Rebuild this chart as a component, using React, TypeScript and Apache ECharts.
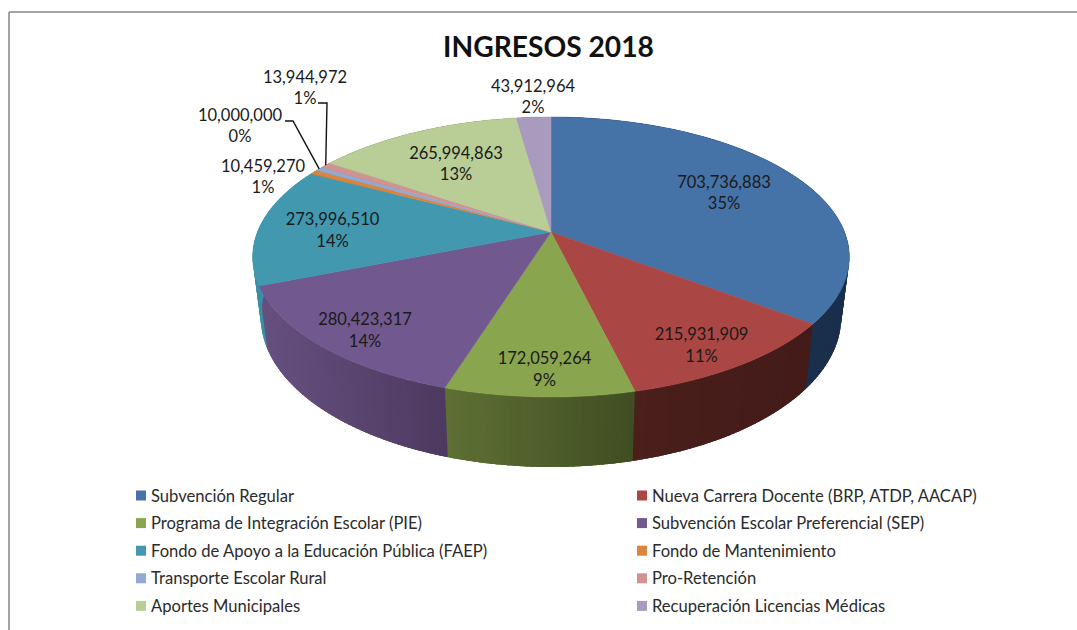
import React, { useEffect, useRef } from "react";
import * as echarts from "echarts";

const titleText = "INGRESOS 2018";
const categories = [
  "Subvención Regular",
  "Nueva Carrera Docente (BRP, ATDP, AACAP)",
  "Programa de Integración Escolar (PIE)",
  "Subvención Escolar Preferencial (SEP)",
  "Fondo de Apoyo a la Educación Pública (FAEP)",
  "Fondo de Mantenimiento",
  "Transporte Escolar Rural",
  "Pro-Retención",
  "Aportes Municipales",
  "Recuperación Licencias Médicas",
];
const values = [703736883, 215931909, 172059264, 280423317, 273996510, 10459270, 10000000, 13944972, 265994863, 43912964];
const percentLabels = ["35%", "11%", "9%", "14%", "14%", "1%", "0%", "1%", "13%", "2%"];

const topColors = ["#4572A7", "#AA4643", "#89A54E", "#71588F", "#4198AF", "#DB843D", "#93A9CF", "#D19392", "#B9CD96", "#A99BBD"];
const wallColors = [
  ["#1a2f4c", "#1a2f4c"],
  ["#4a1f1c", "#431b18"],
  ["#5f7035", "#414e22"],
  ["#665080", "#4e3a60"],
  ["#3a8fa7", "#3a8fa7"],
  ["#8a5020", "#8a5020"],
  ["#5a6a88", "#5a6a88"],
  ["#8a5f5e", "#8a5f5e"],
  ["#76855d", "#76855d"],
  ["#6c6279", "#6c6279"],
];
const labelAnchors = [
  [724, 192.5], [701.5, 345], [544.5, 369], [365, 330], [332.5, 230],
  [263, 176.5], [240, 125.5], [305, 87.5], [456, 163.5], [533, 96.5],
];
const leaderElbows: Record<number, number[][]> = {
  6: [[285, 121], [293, 121]],
  7: [[318, 103], [327, 103]],
};

// Perspective projection of the pie's unit circle onto the page
const CX = 551, CY = 232, A = 293.5, B = 135.5, K = -0.1786;
const project = (theta: number) => {
  const x = Math.sin(theta), y = -Math.cos(theta);
  const d = 1 + K * y;
  return [CX + (A * x) / d, CY + (B * y) / d];
};
const projectBottom = (theta: number) => {
  const p = project(theta);
  return [CX + (p[0] - CX) * 0.973, p[1] + 62 + 0.0714 * (p[1] - 285)];
};
const steps = (a: number, b: number) => {
  const n = Math.max(2, Math.ceil(((b - a) * 180) / Math.PI));
  const out: number[] = [];
  for (let i = 0; i <= n; i++) out.push(a + ((b - a) * i) / n);
  return out;
};

const total = values.reduce((s, v) => s + v, 0);
const startAngles: number[] = [];
values.reduce((acc, v) => {
  startAngles.push(acc);
  return acc + v;
}, 0);
const angleOf = (cum: number) => (cum / total) * Math.PI * 2;
const sliceData = values.map((v, i) => [angleOf(startAngles[i]), angleOf(startAngles[i] + v), i]);

const textFont = "Lato";

function buildOption(): any {
  const wallSeries = {
    type: "custom",
    name: "walls",
    coordinateSystem: "none",
    silent: true,
    data: sliceData,
    renderItem: (_p: any, api: any) => {
      const a = api.value(0), b = api.value(1), i = api.value(2);
      const ts = steps(a, b);
      const xs = ts.map((t) => project(t)[0]);
      const minX = Math.min(...xs), maxX = Math.max(...xs);
      const overlap = (1.5 * Math.PI) / 180; // each band runs under the next, so no seams show
      const children: any[] = [];
      for (let s = 0; s < ts.length - 1; s++) {
        const f = (xs[s] - minX) / Math.max(1, maxX - minX);
        const end = ts[s + 1] + overlap;
        children.push({
          type: "polygon",
          shape: { points: [project(ts[s]), project((ts[s] + end) / 2), project(end), projectBottom(end), projectBottom((ts[s] + end) / 2), projectBottom(ts[s])] },
          style: { fill: echarts.color.lerp(f, wallColors[i]) },
        });
      }
      return { type: "group", children };
    },
  };
  const topSeries = categories.map((name, idx) => ({
    type: "custom",
    name,
    coordinateSystem: "none",
    silent: true,
    itemStyle: { color: topColors[idx] },
    data: [sliceData[idx]],
    renderItem: (_p: any, api: any) => {
      const a = api.value(0), b = api.value(1);
      const pts = [[CX, CY], ...steps(a, b).map(project)];
      return {
        type: "polygon",
        shape: { points: pts },
        style: { fill: topColors[idx], stroke: topColors[idx], lineWidth: 0.5 },
      };
    },
  }));
  const labelSeries = {
    type: "custom",
    name: "labels",
    coordinateSystem: "none",
    silent: true,
    data: sliceData,
    renderItem: (_p: any, api: any) => {
      const a = api.value(0), b = api.value(1), i = api.value(2);
      const children: any[] = [
        {
          type: "text",
          x: labelAnchors[i][0],
          y: labelAnchors[i][1],
          style: {
            text: `${values[i].toLocaleString("en-US")}\n${percentLabels[i]}`,
            align: "center",
            verticalAlign: "middle",
            font: `16.5px ${textFont}`,
            lineHeight: 21.5,
            fill: "#1a1a1a",
          },
        },
      ];
      if (leaderElbows[i]) {
        children.push({
          type: "polyline",
          shape: { points: [...leaderElbows[i], project((a + b) / 2)] },
          style: { stroke: "#111111", lineWidth: 1.4, fill: "none" },
        });
      }
      return { type: "group", children };
    },
  };
  const legendBase = {
    orient: "vertical",
    icon: "rect",
    itemWidth: 10,
    itemHeight: 10,
    itemGap: 8.6,
    selectedMode: false,
    textStyle: { fontFamily: textFont, fontSize: 16.6, color: "#2b2b2b", height: 19, lineHeight: 19 },
  };
  return {
    animation: false,
    backgroundColor: "#ffffff",
    title: {
      text: titleText,
      left: 543.5,
      top: 27,
      textAlign: "center",
      textStyle: { fontFamily: textFont, fontWeight: "bold", fontSize: 28.2, color: "#111111" },
    },
    legend: [
      { ...legendBase, left: 131, top: 481, data: categories.filter((_, i) => i % 2 === 0) },
      { ...legendBase, left: 632, top: 481, data: categories.filter((_, i) => i % 2 === 1) },
    ],
    graphic: [
      { type: "line", shape: { x1: 9, y1: 12, x2: 9, y2: 630 }, style: { stroke: "#868686", lineWidth: 1.5 } },
      { type: "line", shape: { x1: 9, y1: 12, x2: 1077, y2: 12 }, style: { stroke: "#868686", lineWidth: 1.5 } },
    ],
    series: [wallSeries, ...topSeries, labelSeries],
  };
}

export default function App() {
  const ref = useRef<HTMLDivElement>(null);
  useEffect(() => {
    const chart = echarts.init(ref.current!, undefined, { renderer: "svg" });
    chart.setOption(buildOption());
    return () => chart.dispose();
  }, []);
  return <div ref={ref} style={{ position: "fixed", left: 0, top: 0, width: 1077, height: 630 }} />;
}
